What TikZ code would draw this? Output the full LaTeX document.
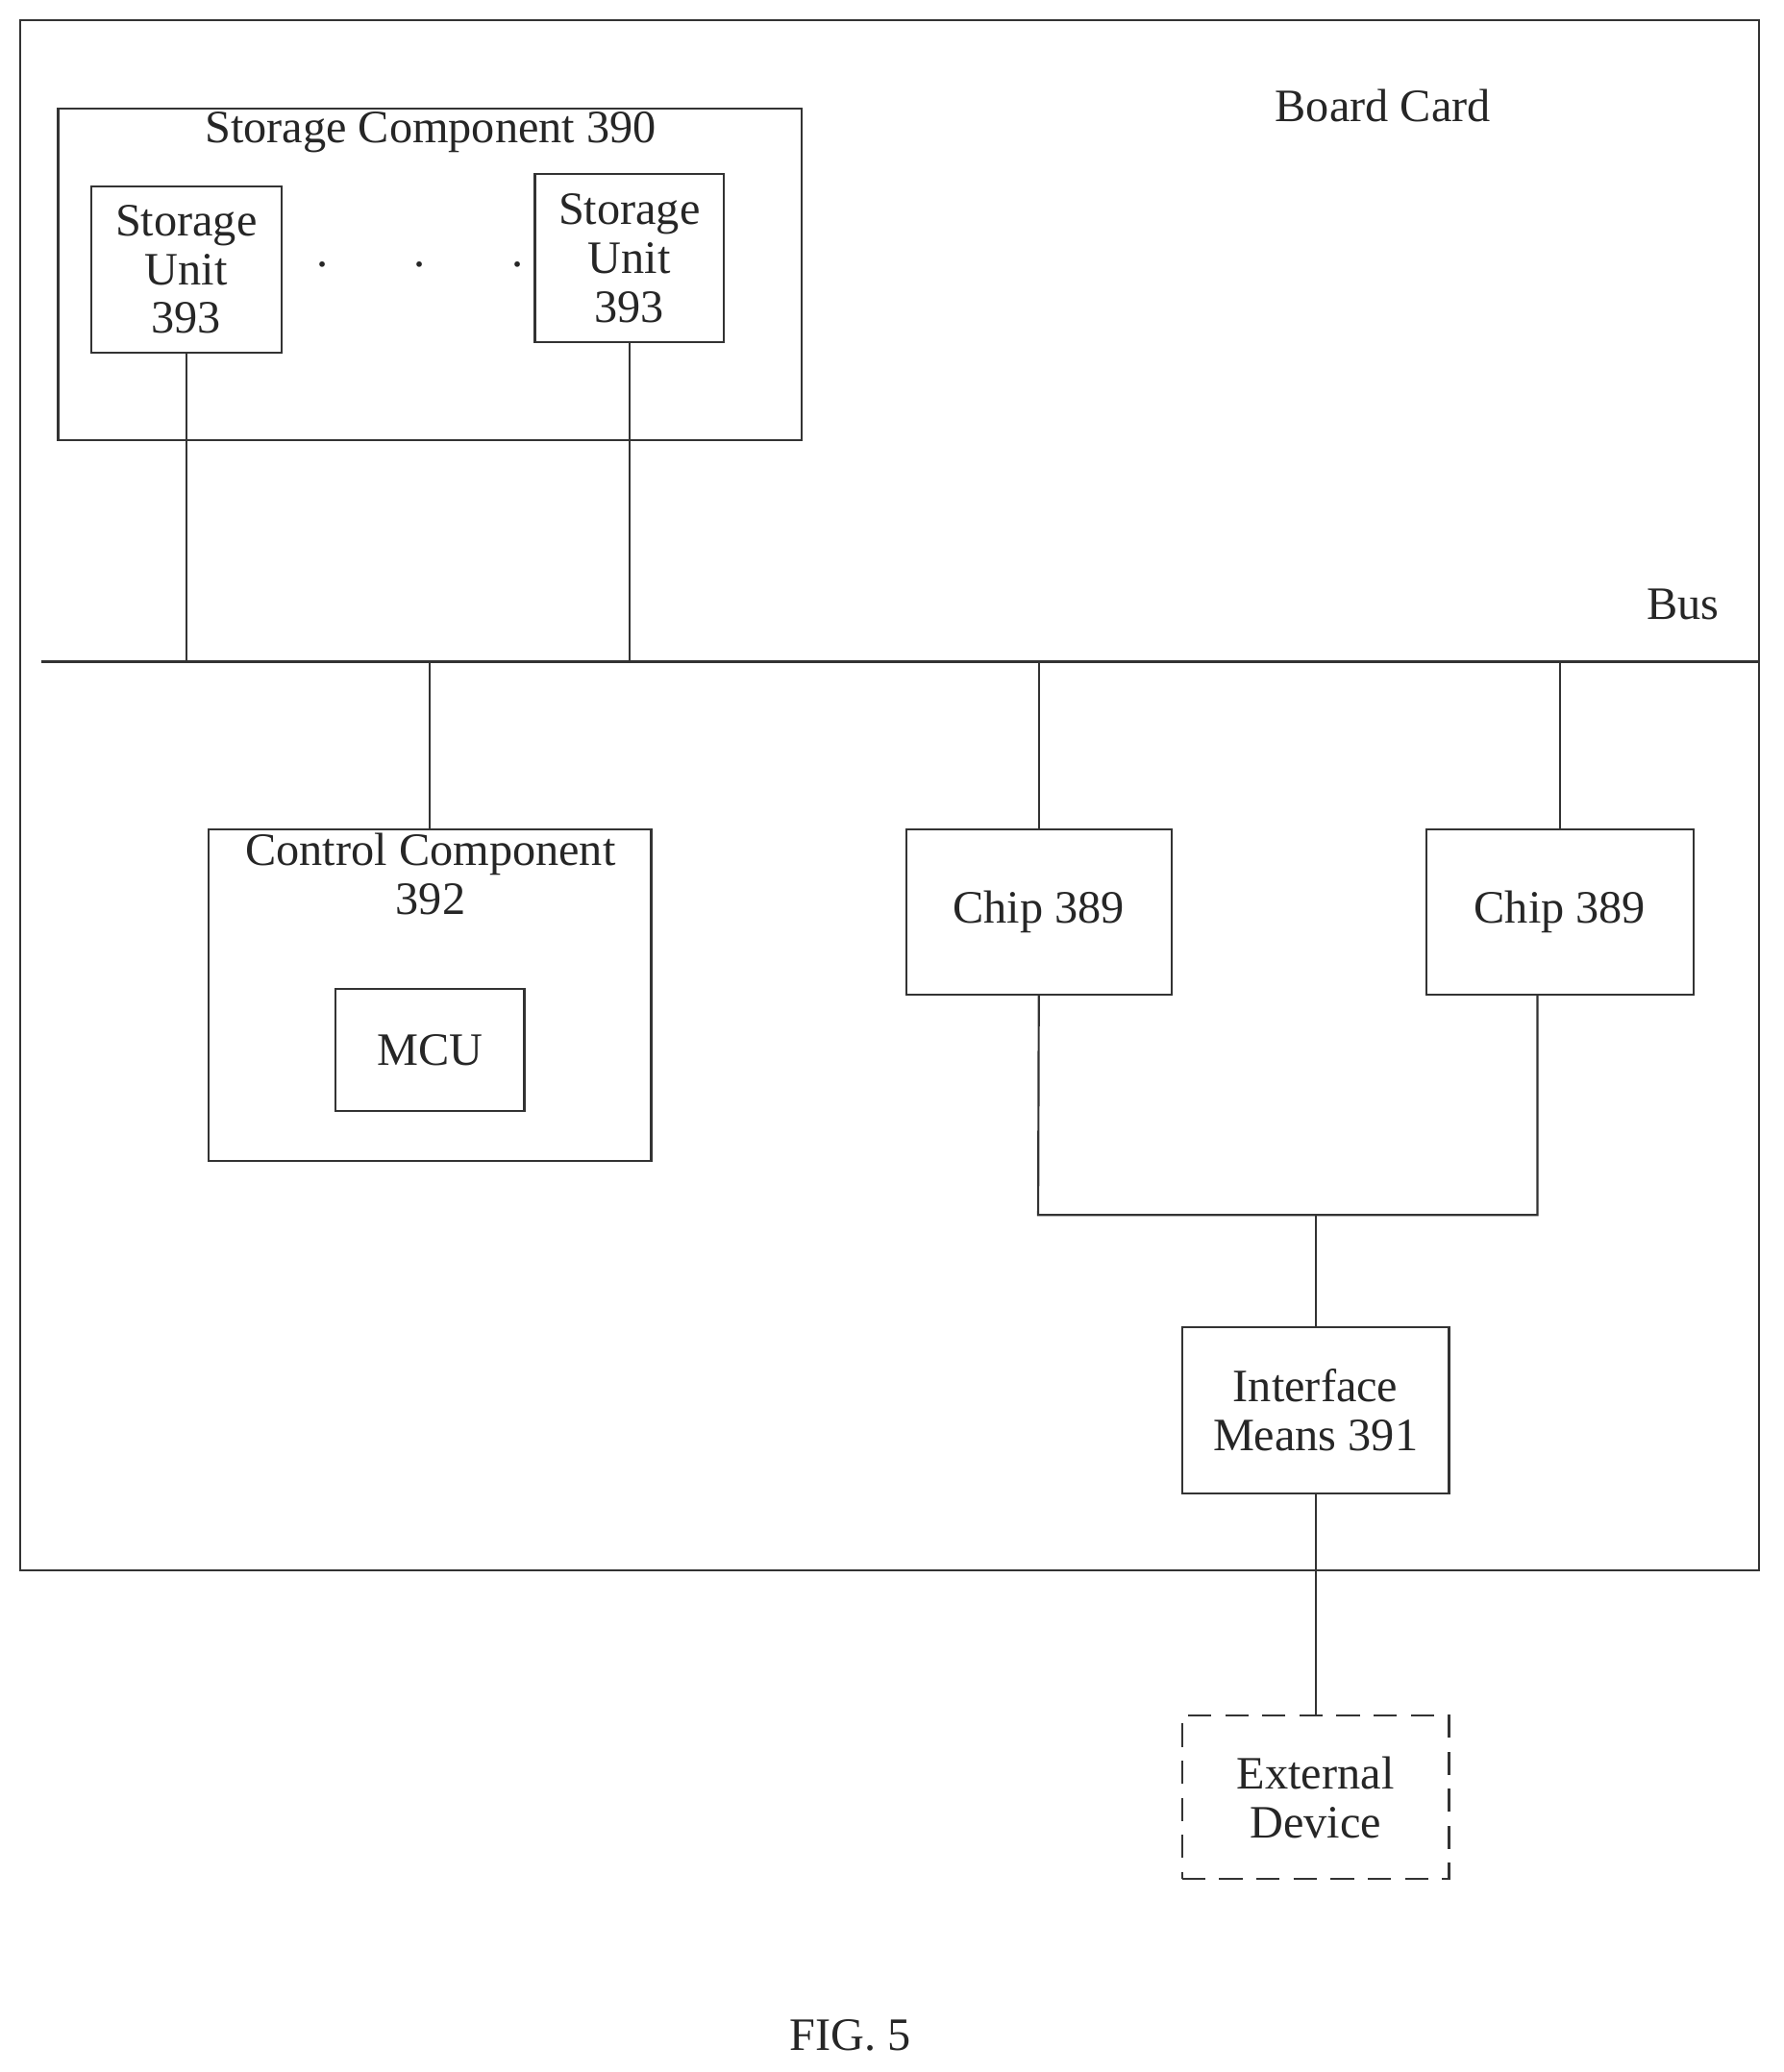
\documentclass[tikz,border=0pt]{standalone}
\usepackage{fontspec}
\setmainfont{Liberation Serif}
\begin{document}
\begin{tikzpicture}[x=0.02cm,y=-0.02cm,
  box/.style={draw=black!80,line width=0.9pt,inner sep=0pt},
  ln/.style={draw=black!80,line width=0.9pt},
  txt/.style={font=\fontsize{20}{21}\selectfont,align=center,text=black!85}]
\useasboundingbox (0,0) rectangle (1350,1569);
\node[box,minimum width=1317*0.02cm,minimum height=1174*0.02cm] (board) at (673.5,602) {};
\node[txt] (bclab) at (1047,80) {Board Card};
\node[box,minimum width=563*0.02cm,minimum height=251*0.02cm] (sc) at (325.5,207.5) {};
\node[txt] (sclab) at (326,100) {Storage Component 390};
\node[box,txt,minimum width=144*0.02cm,minimum height=126*0.02cm] (su1) at (141,204) {Storage\\Unit\\393};
\node[box,txt,minimum width=143*0.02cm,minimum height=127*0.02cm] (su2) at (476.5,195.5) {Storage\\Unit\\393};
\node[txt] (dots) at (318,200) {.\hspace{1.3cm}.\hspace{1.3cm}.};
\coordinate (busL) at (31,501);
\coordinate (busR) at (1332,501);
\draw[ln] (busL) -- (busR);
\node[txt] (buslab) at (1274,458) {Bus};
\node[box,minimum width=335*0.02cm,minimum height=251*0.02cm] (cc) at (325.5,753.5) {};
\node[txt] (cclab) at (326,662) {Control Component\\392};
\node[box,txt,minimum width=143*0.02cm,minimum height=92*0.02cm] (mcu) at (325.5,795) {MCU};
\node[box,txt,minimum width=201*0.02cm,minimum height=125*0.02cm] (c1) at (786.5,690.5) {Chip 389};
\node[box,txt,minimum width=202*0.02cm,minimum height=125*0.02cm] (c2) at (1181,690.5) {Chip 389};
\node[box,txt,minimum width=202*0.02cm,minimum height=126*0.02cm] (im) at (996,1068) {Interface\\Means 391};
\node[box,txt,dashed,dash pattern=on 10pt off 6pt,minimum width=202*0.02cm,minimum height=124*0.02cm] (ext) at (996,1361) {External\\Device};
\node[txt] (fig) at (644,1541) {FIG. 5};
\draw[ln] (su1.south) -- (su1.south |- busL);
\draw[ln] (su2.south) -- (su2.south |- busL);
\draw[ln] (cc.north) -- (cc.north |- busL);
\draw[ln] (c1.north) -- (c1.north |- busL);
\draw[ln] (c2.north) -- (c2.north |- busL);
\coordinate (j1) at (786,920);
\coordinate (j2) at (1164,920);
\draw[ln] (c1.south) -- (j1) -- (j2) -- (j2 |- c2.south);
\draw[ln] (im.north |- j1) -- (im.north);
\draw[ln] (im.south) -- (ext.north);
\end{tikzpicture}
\end{document}
